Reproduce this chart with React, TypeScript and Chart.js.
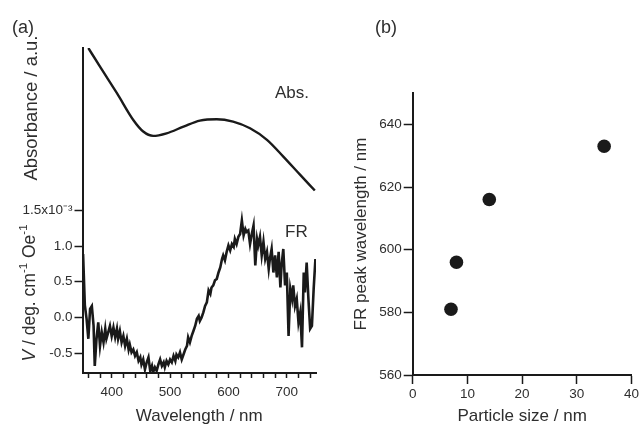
import React, { useEffect, useRef } from "react";
import { Chart, registerables } from "chart.js";

Chart.register(...registerables);

// ---- Panel (a): absorbance spectrum (arbitrary units) ----
const absWavelength = [360, 380, 409, 437, 454, 471, 494, 523, 551, 580, 608, 637, 666, 694, 723, 748];
const absValue = [1.0, 0.885, 0.722, 0.557, 0.486, 0.459, 0.475, 0.516, 0.553, 0.562, 0.547, 0.506, 0.435, 0.332, 0.219, 0.123];

// ---- Panel (a): Faraday rotation spectrum (x10^-3 deg cm^-1 Oe^-1) ----
const frWavelength = [
  351, 354, 357, 360, 363, 366, 369,
  371, 374, 377, 380, 383, 386, 389,
  391, 394, 397, 400, 403, 406, 409,
  411, 414, 417, 420, 423, 426, 429,
  431, 434, 437, 440, 443, 446, 449,
  451, 454, 457, 460, 463, 466, 469,
  471, 474, 477, 480, 483, 486, 489,
  491, 494, 497, 500, 503, 506, 509,
  511, 514, 517, 520, 523, 526, 529,
  531, 534, 537, 540, 543, 546, 549,
  551, 554, 557, 560, 563, 566, 569,
  571, 574, 577, 580, 583, 586, 589,
  591, 594, 597, 600, 603, 606, 609,
  611, 614, 617, 620, 623, 626, 629,
  631, 634, 637, 640, 643, 646, 649,
  651, 654, 657, 660, 663, 666, 669,
  671, 674, 677, 680, 683, 686, 689,
  691, 694, 697, 700, 703, 706, 709,
  711, 714, 717, 720, 723, 726, 729,
  731, 734, 737, 740, 743, 746, 749,
];
const frValue = [
  0.89, 0.17, -0.02, -0.3, 0.12, 0.16, -0.12,
  -0.68, -0.3, -0.07, -0.4, -0.21, -0.35, -0.16,
  -0.3, -0.21, -0.12, -0.26, -0.14, -0.28, -0.16,
  -0.3, -0.19, -0.35, -0.26, -0.4, -0.3, -0.45,
  -0.38, -0.49, -0.45, -0.54, -0.49, -0.61, -0.56,
  -0.66, -0.59, -0.73, -0.63, -0.56, -0.75, -0.68,
  -0.77, -0.7, -0.75, -0.66, -0.59, -0.68, -0.63,
  -0.7, -0.61, -0.66, -0.59, -0.63, -0.54, -0.61,
  -0.52, -0.56, -0.49, -0.59, -0.52, -0.45, -0.4,
  -0.28, -0.35, -0.26, -0.19, -0.12, -0.02, 0.02,
  -0.05, 0.0, 0.07, 0.16, 0.21, 0.38, 0.33,
  0.42, 0.45, 0.52, 0.54, 0.63, 0.7, 0.82,
  0.87, 0.8, 0.92, 1.01, 0.94, 1.03, 0.99,
  1.1, 1.03, 1.13, 1.17, 1.36, 1.15, 1.24,
  1.2, 1.22, 1.03, 1.17, 1.29, 0.73, 1.1,
  1.01, 1.13, 0.87, 1.06, 0.82, 0.92, 0.68,
  0.82, 0.96, 0.63, 0.87, 0.56, 0.92, 0.42,
  0.73, 0.96, 0.45, 0.63, -0.26, 0.4, 0.26,
  0.45, 0.16, 0.26, -0.07, 0.07, -0.42, 0.63,
  0.35, 0.77, 0.26, -0.16, -0.12, 0.4, 0.82,
];

const wlTicks = [360, 380, 400, 420, 440, 460, 480, 500, 520, 540, 560, 580, 600, 620, 640, 660, 680, 700, 720, 740];
const wlLabels = [400, 500, 600, 700];
const frTicks = [-0.5, 0.0, 0.5, 1.0, 1.5];

// ---- Panel (b): FR peak wavelength vs particle size ----
const particleSize = [7, 8, 14, 35];
const peakWavelength = [581, 596, 616, 633];
const sizeTicks = [0, 10, 20, 30, 40];
const peakTicks = [560, 580, 600, 620, 640];

const FONT = '"Liberation Sans", Arial, Helvetica, sans-serif';
const INK = "#1a1a1a";
const TEXT = "#2e2e2e";

type Seg = { t: string; italic?: boolean; sup?: boolean };

function drawRich(ctx: CanvasRenderingContext2D, segs: Seg[], size: number, supSize: number, rise: number) {
  const fontOf = (s: Seg) => `${s.italic ? "italic " : ""}${s.sup ? supSize : size}px ${FONT}`;
  let total = 0;
  const widths = segs.map((s) => {
    ctx.font = fontOf(s);
    const w = ctx.measureText(s.t).width;
    total += w;
    return w;
  });
  let x = -total / 2;
  ctx.textAlign = "left";
  segs.forEach((s, i) => {
    ctx.font = fontOf(s);
    ctx.fillText(s.t, x, s.sup ? -rise : 0);
    x += widths[i];
  });
}

const textPluginA = {
  id: "textA",
  afterDraw(chart: any) {
    const ctx: CanvasRenderingContext2D = chart.ctx;
    const ca = chart.chartArea;
    ctx.save();
    ctx.fillStyle = TEXT;
    ctx.textBaseline = "alphabetic";
    ctx.textAlign = "left";
    ctx.font = `18px ${FONT}`;
    ctx.fillText("(a)", 12, 33);
    ctx.font = `17px ${FONT}`;
    ctx.fillText("Abs.", 275, 98);
    ctx.fillText("FR", 285, 237);
    ctx.textAlign = "center";
    ctx.fillText("Wavelength / nm", (ca.left + ca.right) / 2, 421);

    ctx.save();
    ctx.translate(37, 108);
    ctx.rotate(-Math.PI / 2);
    ctx.textAlign = "center";
    ctx.font = `18.5px ${FONT}`;
    ctx.fillText("Absorbance / a.u.", 0, 0);
    ctx.restore();

    ctx.save();
    ctx.translate(35, 293);
    ctx.rotate(-Math.PI / 2);
    drawRich(
      ctx,
      [
        { t: "V", italic: true },
        { t: " / deg. cm" },
        { t: "-1", sup: true },
        { t: " Oe" },
        { t: "-1", sup: true },
      ],
      17.5,
      11.5,
        8
    );
    ctx.restore();
    ctx.restore();
  },
};

const textPluginB = {
  id: "textB",
  afterDraw(chart: any) {
    const ctx: CanvasRenderingContext2D = chart.ctx;
    const ca = chart.chartArea;
    ctx.save();
    ctx.fillStyle = TEXT;
    ctx.textBaseline = "alphabetic";
    ctx.textAlign = "left";
    ctx.font = `18px ${FONT}`;
    ctx.fillText("(b)", 45, 33);
    ctx.font = `17px ${FONT}`;
    ctx.textAlign = "center";
    ctx.fillText("Particle size / nm", (ca.left + ca.right) / 2, 421);
    ctx.save();
    ctx.translate(36, (ca.top + ca.bottom) / 2);
    ctx.rotate(-Math.PI / 2);
    ctx.fillText("FR peak wavelength / nm", 0, 0);
    ctx.restore();
    ctx.restore();
  },
};

const tickFont = { family: FONT, size: 13.5 };

function PanelA() {
  const ref = useRef<HTMLCanvasElement | null>(null);
  useEffect(() => {
    if (!ref.current) return;
    const chart = new Chart(ref.current, {
      type: "line",
      data: {
        datasets: [
          {
            label: "FR",
            data: frWavelength.map((x, i) => ({ x, y: frValue[i] })),
            xAxisID: "x",
            yAxisID: "yFR",
            borderColor: INK,
            borderWidth: 2.6,
            pointRadius: 0,
            tension: 0,
          },
          {
            label: "Abs.",
            data: absWavelength.map((x, i) => ({ x, y: absValue[i] })),
            xAxisID: "x",
            yAxisID: "yAbs",
            borderColor: INK,
            borderWidth: 2.4,
            pointRadius: 0,
            cubicInterpolationMode: "monotone",
          },
        ],
      },
      options: {
        responsive: false,
        animation: false,
        layout: { autoPadding: false, padding: { left: 0, right: 14, top: 48, bottom: 0 } },
        plugins: { legend: { display: false }, tooltip: { enabled: false } },
        scales: {
          x: {
            type: "linear",
            position: "bottom",
            min: 350,
            max: 750,
            afterFit: (s: any) => {
              s.height = 52;
            },
            afterBuildTicks: (s: any) => {
              s.ticks = wlTicks.map((v) => ({ value: v }));
            },
            ticks: {
              autoSkip: false,
              maxRotation: 0,
              padding: 6,
              color: TEXT,
              font: tickFont,
              callback: (v: any) => (wlLabels.includes(Number(v)) ? String(v) : ""),
            },
            grid: { drawOnChartArea: false, drawTicks: true, tickLength: 5, color: INK, tickWidth: 1.5 },
            border: { display: true, color: INK, width: 2 },
          },
          yFR: {
            type: "linear",
            position: "left",
            stack: "a",
            stackWeight: 1,
            min: -0.78,
            max: 1.5,
            afterFit: (s: any) => {
              s.width = 82.5;
            },
            afterBuildTicks: (s: any) => {
              s.ticks = frTicks.map((v) => ({ value: v }));
            },
            ticks: {
              padding: 2,
              color: TEXT,
              font: tickFont,
              callback: (v: any) => (Number(v) === 1.5 ? "1.5x10\u207B\u00B3" : Number(v).toFixed(1)),
            },
            grid: { drawOnChartArea: false, drawTicks: true, tickLength: 8, color: INK, tickWidth: 1.5 },
            border: { display: true, color: INK, width: 2 },
          },
          yAbs: {
            type: "linear",
            position: "left",
            stack: "a",
            stackWeight: 1,
            min: 0,
            max: 1,
            afterFit: (s: any) => {
              s.width = 82.5;
            },
            ticks: { display: false },
            grid: { drawOnChartArea: false, drawTicks: false, color: INK },
            border: { display: true, color: INK, width: 2 },
          },
        },
      } as any,
      plugins: [textPluginA],
    });
    return () => chart.destroy();
  }, []);
  return (
    <canvas
      ref={ref}
      width={330}
      height={425}
      style={{ position: "absolute", left: 0, top: 0, width: 330, height: 425 }}
    />
  );
}

function PanelB() {
  const ref = useRef<HTMLCanvasElement | null>(null);
  useEffect(() => {
    if (!ref.current) return;
    const chart = new Chart(ref.current, {
      type: "scatter",
      data: {
        datasets: [
          {
            label: "FR peak",
            data: particleSize.map((x, i) => ({ x, y: peakWavelength[i] })),
            backgroundColor: INK,
            borderColor: INK,
            pointRadius: 6.8,
            pointBorderWidth: 0,
          },
        ],
      },
      options: {
        responsive: false,
        animation: false,
        layout: { autoPadding: false, padding: { left: 0, right: 6, top: 93, bottom: 0 } },
        plugins: { legend: { display: false }, tooltip: { enabled: false } },
        scales: {
          x: {
            type: "linear",
            min: 0,
            max: 40,
            afterFit: (s: any) => {
              s.height = 50;
            },
            afterBuildTicks: (s: any) => {
              s.ticks = sizeTicks.map((v) => ({ value: v }));
            },
            ticks: { autoSkip: false, maxRotation: 0, padding: 2, color: TEXT, font: tickFont },
            grid: { drawOnChartArea: false, drawTicks: true, tickLength: 9, color: INK, tickWidth: 1.5 },
            border: { display: true, color: INK, width: 2 },
          },
          y: {
            type: "linear",
            min: 560,
            max: 650,
            afterFit: (s: any) => {
              s.width = 82.7;
            },
            afterBuildTicks: (s: any) => {
              s.ticks = peakTicks.map((v) => ({ value: v }));
            },
            ticks: { padding: 2, color: TEXT, font: tickFont },
            grid: { drawOnChartArea: false, drawTicks: true, tickLength: 9, color: INK, tickWidth: 1.5 },
            border: { display: true, color: INK, width: 2 },
          },
        },
      } as any,
      plugins: [textPluginB],
    });
    return () => chart.destroy();
  }, []);
  return (
    <canvas
      ref={ref}
      width={311}
      height={425}
      style={{ position: "absolute", left: 330, top: 0, width: 311, height: 425 }}
    />
  );
}

export default function App() {
  return (
    <div style={{ position: "absolute", left: 0, top: 0, width: 641, height: 425, background: "#fff" }}>
      <PanelA />
      <PanelB />
    </div>
  );
}
